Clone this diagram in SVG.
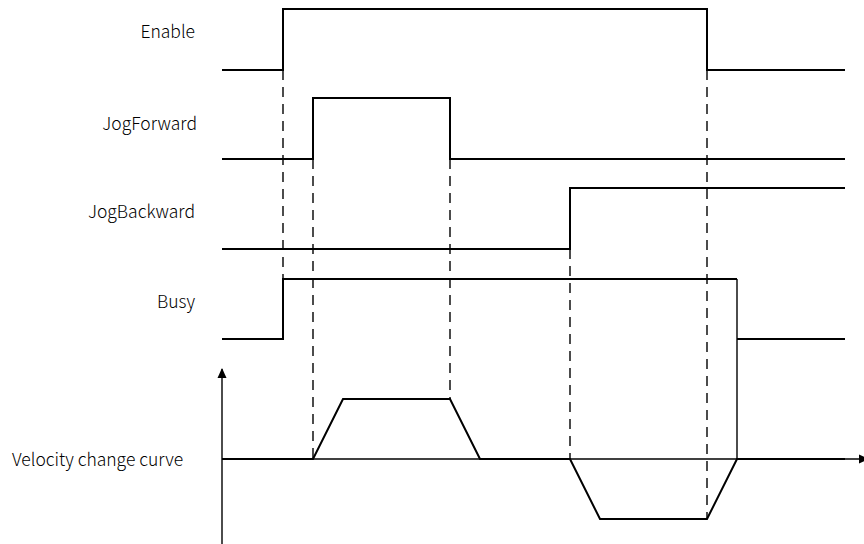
<svg xmlns="http://www.w3.org/2000/svg" width="864" height="544" viewBox="0 0 864 544">
<style>
.lbl{font-family:"Noto Sans CJK SC","Noto Sans",sans-serif;font-size:17.5px;font-weight:300;fill:#000}
.sig{fill:none;stroke:#000;stroke-width:2}
.thin{fill:none;stroke:#000;stroke-width:1.4}
.dash{fill:none;stroke:#000;stroke-width:1.4;stroke-dasharray:10 7}
</style>
<defs>
<marker id="ah" markerWidth="10" markerHeight="10" refX="9" refY="5" orient="auto" markerUnits="userSpaceOnUse">
<path d="M0,0.5 L10,5 L0,9.5 Z" fill="#000"/>
</marker>
</defs>
<rect width="864" height="544" fill="#fff"/>
<g id="connectors">
<path class="dash" d="M283,70 V279"/>
<path class="dash" d="M313,159 V459"/>
<path class="dash" d="M450,159 V399"/>
<path class="dash" d="M570,249 V459"/>
<path class="dash" d="M707,70 V519"/>
</g>
<g id="enable">
<text class="lbl" x="195" y="38" text-anchor="end">Enable</text>
<path class="sig" d="M222,70 H283 V9 H707 V70 H845"/>
</g>
<g id="jogforward">
<text class="lbl" x="197" y="130" text-anchor="end">JogForward</text>
<path class="sig" d="M222,159 H313 V98 H450 V159 H845"/>
</g>
<g id="jogbackward">
<text class="lbl" x="195" y="218" text-anchor="end">JogBackward</text>
<path class="sig" d="M222,249 H570 V188 H845"/>
</g>
<g id="busy">
<text class="lbl" x="195" y="308" text-anchor="end">Busy</text>
<path class="sig" d="M222,339 H283 V279 H737"/>
<path class="thin" d="M737,279 V459"/>
<path class="sig" d="M737,339 H845"/>
</g>
<g id="velocity">
<text class="lbl" x="12" y="466">Velocity change curve</text>
<path class="thin" d="M222,544 V369" marker-end="url(#ah)"/>
<path class="thin" d="M222,459 H868" marker-end="url(#ah)"/>
<path class="sig" d="M222,459 H313 L343,399 H450 L480,459 H570 L600,519 H707 L737,459 H845"/>
</g>
</svg>
